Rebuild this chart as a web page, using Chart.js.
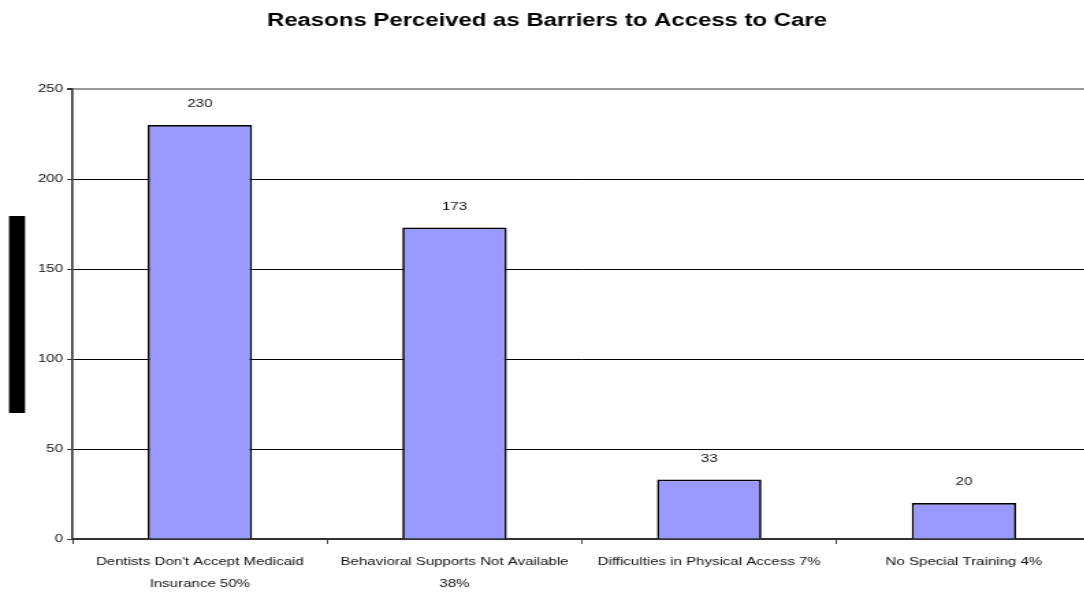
<!DOCTYPE html>
<html>
<head>
<meta charset="utf-8">
<script src="https://cdn.jsdelivr.net/npm/chart.js@4/dist/chart.umd.min.js"></script>
<style>
  html, body { margin: 0; padding: 0; background: #fff; overflow: hidden; }
  #wrap { width: 1084px; height: 592px; overflow: hidden; }
  /* the chart is laid out at 800px and widened to the page */
  #c { display: block; transform-origin: 0 0; transform: scaleX(1.3675); }
</style>
</head>
<body>
<div id="wrap"><canvas id="c" width="800" height="592"></canvas></div>
<script>
const titleText = 'Reasons Perceived as Barriers to Access to Care';
const categories = [
  ["Dentists Don't Accept Medicaid", 'Insurance 50%'],
  ['Behavioral Supports Not Available', '38%'],
  'Difficulties in Physical Access 7%',
  'No Special Training 4%'
];
const counts = [230, 173, 33, 20];
const yTicks = [0, 50, 100, 150, 200, 250];

const FONT = '"Liberation Sans", Arial, sans-serif';

// Chart title, value labels above the bars and the y-axis title block
const decorations = {
  id: 'decorations',
  afterDraw(chart) {
    const ctx = chart.ctx;
    ctx.save();
    ctx.fillStyle = '#000';
    ctx.font = 'bold 17.5px ' + FONT;
    ctx.textAlign = 'center';
    ctx.textBaseline = 'middle';
    ctx.fillText(titleText, chart.width / 2, 21);

    ctx.fillRect(6.6, 216, 11.7, 197);

    ctx.font = '11px ' + FONT;
    ctx.fillStyle = '#111';
    const meta = chart.getDatasetMeta(0);
    meta.data.forEach((bar, i) => {
      ctx.fillText(String(counts[i]), bar.x, bar.y - 21);
    });
    ctx.restore();
  }
};

new Chart(document.getElementById('c'), {
  type: 'bar',
  data: {
    labels: categories,
    datasets: [{
      data: counts,
      backgroundColor: '#9999FF',
      borderColor: '#000',
      borderWidth: 1.7,
      borderSkipped: 'bottom',
      barPercentage: 0.41,
      categoryPercentage: 1
    }]
  },
  options: {
    responsive: false,
    animation: false,
    devicePixelRatio: 1,
    layout: { padding: { top: 89, right: 2, left: 0, bottom: 0 } },
    plugins: {
      legend: { display: false },
      title: { display: false },
      tooltip: { enabled: false }
    },
    scales: {
      x: {
        offset: true,
        grid: {
          offset: true,
          drawOnChartArea: false,
          drawTicks: true,
          tickLength: 5,
          color: '#444'
        },
        border: { display: true, color: '#333', width: 2 },
        ticks: {
          color: '#111',
          font: { family: FONT, size: 11, lineHeight: 2 },
          padding: 7,
          maxRotation: 0,
          autoSkip: false
        },
        afterFit(scale) { scale.height = 53; }
      },
      y: {
        min: 0,
        max: 250,
        afterBuildTicks(scale) { scale.ticks = yTicks.map(v => ({ value: v })); },
        grid: {
          color: ctx => (ctx.tick && ctx.tick.value === 250) ? '#999' : '#000',
          lineWidth: ctx => (ctx.tick && ctx.tick.value === 250) ? 2 : 1,
          tickColor: '#333',
          tickLength: 4
        },
        border: { display: true, color: '#333', width: 1.6 },
        ticks: {
          color: '#111',
          font: { family: FONT, size: 11 },
          padding: 3
        },
        afterFit(scale) { scale.width = 53; }
      }
    }
  },
  plugins: [decorations]
});
</script>
</body>
</html>
